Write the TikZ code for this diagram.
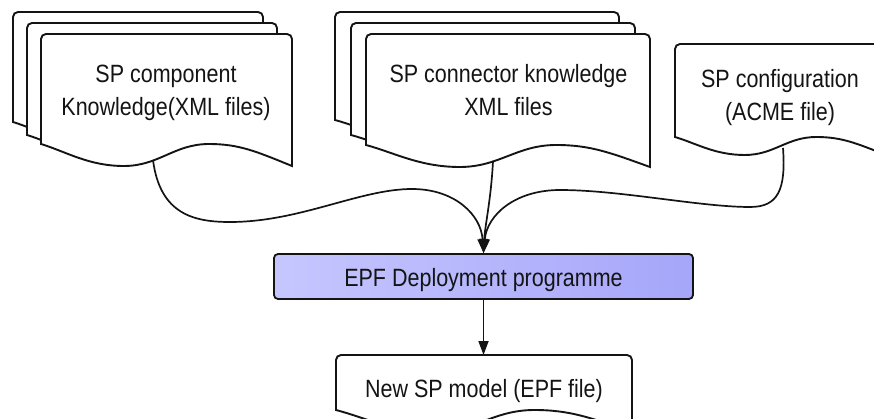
\documentclass[tikz,border=0pt]{standalone}
\usepackage{fontspec}
\setmainfont{Liberation Sans}[FakeStretch=0.86]
\usepackage{tikz}
\usetikzlibrary{arrows.meta,positioning,calc}
\definecolor{bwblack}{RGB}{20,20,20}
\definecolor{epfleft}{RGB}{198,198,255}
\definecolor{epfright}{RGB}{166,166,250}

% document page: x, top y, width, left side height, wave depth
\newcommand{\docpage}[5]{%
  \draw[doc] (#1,#2+#4) [rounded corners=5pt] -- (#1,#2) -- (#1+#3,#2)
    -- (#1+#3,#2+0.5*#4) [sharp corners] -- (#1+#3,#2+#4+#5)
    .. controls (#1+0.86*#3,#2+#4+0.35*#5) and (#1+0.79*#3,#2+#4) .. (#1+0.67*#3,#2+#4)
    .. controls (#1+0.53*#3,#2+#4) and (#1+0.47*#3,#2+#4+#5) .. (#1+0.33*#3,#2+#4+#5)
    .. controls (#1+0.19*#3,#2+#4+#5) and (#1+0.1*#3,#2+#4+0.35*#5) .. cycle;}

\begin{document}
\begin{tikzpicture}[x=1pt,y=-1pt,
    doc/.style={draw=bwblack,fill=white,line width=1.9pt},
    lbl/.style={text=bwblack,align=center,inner sep=0pt,
                font=\fontsize{25}{32.5}\selectfont},
    prog/.style={draw=bwblack,line width=1.8pt,rounded corners=4pt,
                 left color=epfleft,right color=epfright,
                 minimum width=419pt,minimum height=45pt,inner sep=0pt,
                 text height=20pt,text depth=0pt,text=bwblack,
                 font=\fontsize{25}{32.5}\selectfont},
    arr/.style={-{Triangle[length=14pt,width=10pt]},line width=1.7pt,bwblack}
  ]
    \useasboundingbox (0,0) rectangle (874,419);

    % component knowledge files
    \docpage{13}{12}{250}{110}{22}
    \docpage{27}{23}{250}{112}{22}
    \docpage{41}{34}{251}{110}{22}
    \node[lbl] (comptxt) at (166,92.7) {SP component\\Knowledge(XML files)};

    % connector knowledge files
    \docpage{335}{12}{284}{108}{22}
    \docpage{351}{23}{284}{112}{22}
    \docpage{366}{34}{284}{111}{22}
    \node[lbl] (conntxt) at (508.5,90) {SP connector knowledge\\XML files};

    % configuration
    \docpage{675}{44}{211}{93}{18}
    \node[lbl] (conftxt) at (780,97.6) {SP configuration\\(ACME file)};

    \node[prog] (epf) at (483.5,276.5) {EPF Deployment programme};

    % result
    \docpage{336}{355}{296}{55}{22}
    \node[lbl,anchor=base] (newtxt) at (484,397) {New SP model (EPF file)};

    \coordinate (compout) at (153,160);
    \coordinate (connout) at (493,161);
    \coordinate (confout) at (783,148);
    \coordinate (newtop) at (483.5,355);

    \draw[arr] (compout) .. controls (160,215) and (195,222) .. (230,222)
      .. controls (300,222) and (360,189) .. (412,189)
      .. controls (455,189) and (481,215) .. (epf.north);
    \draw[arr] (connout) .. controls (491,200) and (485,225) .. (epf.north);
    \draw[arr] (confout) .. controls (786,190) and (778,207) .. (750,207)
      .. controls (700,207) and (620,190) .. (560,190)
      .. controls (515,190) and (487,215) .. (epf.north);
    \draw[arr] (epf.south) -- (newtop);
\end{tikzpicture}
\end{document}
